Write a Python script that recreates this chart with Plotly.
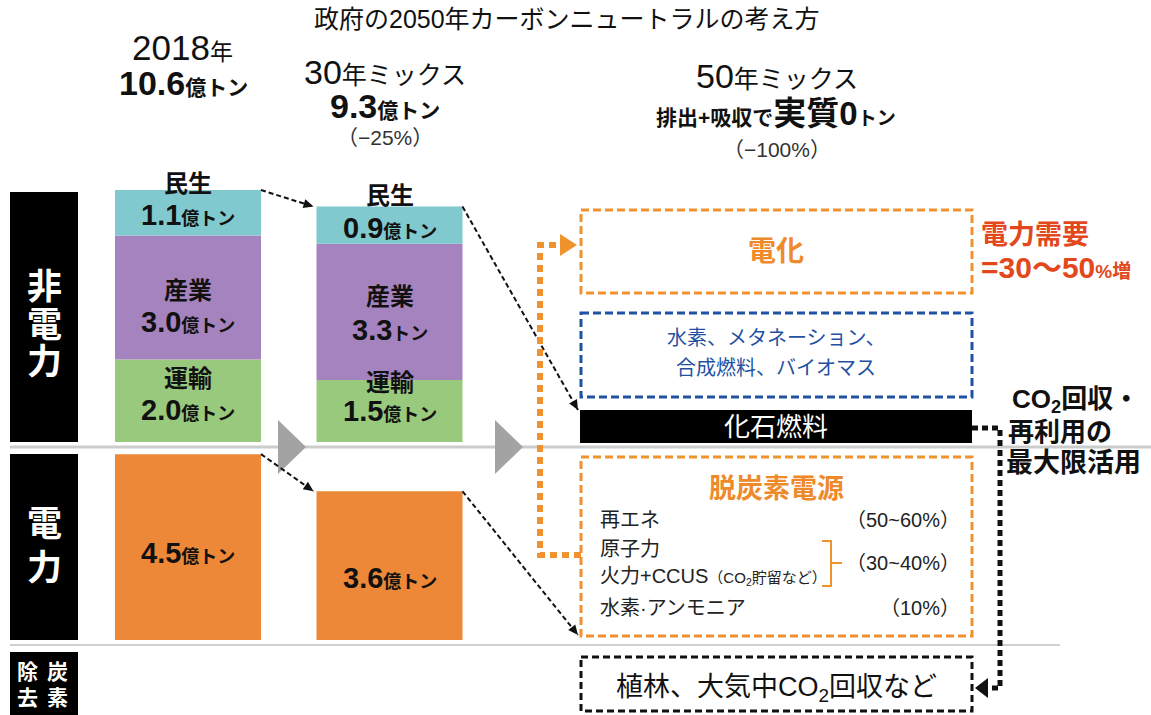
import numpy as np
import plotly.graph_objects as go

# ---- data (億トン CO2) ----
categories = ["2018年", "30年ミックス"]
minsei = [1.1, 0.9]      # 民生
sangyo = [3.0, 3.3]      # 産業
unyu = [2.0, 1.5]        # 運輸
denryoku = [4.5, 3.6]    # 電力
sangyo_units = ["億トン", "トン"]
reduction_labels = ["（−25%）", "（−100%）"]
mix_items = ["再エネ", "原子力", "火力+CCUS", "水素·アンモニア"]
mix_shares = ["（50~60%）", "（30~40%）", "（10%）"]

totals = np.round(np.array(minsei) + np.array(sangyo) + np.array(unyu) + np.array(denryoku), 1)

# ---- canvas / scale ----
W, H = 1151, 715
PPU = 41.3            # pixels per 億トン
Y0_PX = 640           # baseline of the power bars
NP_BASE_PX = 442      # baseline of the non-power stack
COL0_PX, COL_SP = 188, 201.5
BAR_W = 146 / COL_SP

XL = -COL0_PX / COL_SP
XR = XL + W / COL_SP
Y_BOT = -(H - Y0_PX) / PPU
Y_TOP = Y0_PX / PPU
NP_BASE = (Y0_PX - NP_BASE_PX) / PPU

FONT = "Liberation Sans, Noto Sans CJK JP"
CYAN, PURPLE, GREEN, ORANGE = "#80C9CF", "#A583BF", "#99C97D", "#EC8838"
DASH_ORANGE, BLUE, RED = "#F0922E", "#1F52A3", "#E2481C"


def xd(px):
    return XL + px / COL_SP


def yd(py):
    return (Y0_PX - py) / PPU


def to_px(x, y):
    return (x - XL) * COL_SP, Y0_PX - y * PPU


def px_x(px):
    return px / W


def px_y(py):
    return 1 - py / H


fig = go.Figure()

base_unyu = np.full(len(categories), NP_BASE)
base_sangyo = base_unyu + np.array(unyu)
base_minsei = base_sangyo + np.array(sangyo)
top_np = base_minsei + np.array(minsei)

for vals, base, col in [(unyu, base_unyu, GREEN), (sangyo, base_sangyo, PURPLE),
                        (minsei, base_minsei, CYAN), (denryoku, np.zeros(2), ORANGE)]:
    fig.add_trace(go.Bar(x=categories, y=vals, base=base, width=BAR_W,
                         marker=dict(color=col, line=dict(width=0)),
                         hoverinfo="skip", showlegend=False))

shapes = []
annos = []


def T(x, y, text, size, color="#111111", xanchor="center", xref="paper"):
    annos.append(dict(x=(x if xref == "x" else px_x(x)), y=px_y(y), xref=xref, yref="paper",
                      text=text, showarrow=False, xanchor=xanchor, yanchor="middle",
                      align=xanchor if xanchor != "center" else "center",
                      font=dict(size=size, color=color, family=FONT)))


def rect(x0, y0, x1, y1, fill=None, line=None, width=0, dash=None):
    shapes.append(dict(type="rect", xref="paper", yref="paper",
                       x0=px_x(x0), x1=px_x(x1), y0=px_y(y0), y1=px_y(y1),
                       fillcolor=fill if fill else "rgba(0,0,0,0)",
                       line=dict(color=line if line else "rgba(0,0,0,0)", width=width,
                                 dash=dash if dash else "solid"), layer="above"))


def path(pts, color, width, dash="solid", fill=None, close=False):
    d = "M " + " L ".join(f"{px_x(a):.5f},{px_y(b):.5f}" for a, b in pts)
    if close:
        d += " Z"
    shapes.append(dict(type="path", xref="paper", yref="paper", path=d,
                       line=dict(color=color, width=width, dash=dash),
                       fillcolor=fill if fill else "rgba(0,0,0,0)", layer="above"))


# separator lines
path([(10, 447), (1151, 447)], "#CCCCCC", 3)
path([(10, 645), (1060, 645)], "#D0D0D0", 2)

# grey step arrows
path([(278, 420), (306, 447), (278, 474)], "#A3A3A3", 0, fill="#A3A3A3", close=True)
path([(495, 420), (523, 447), (495, 474)], "#A3A3A3", 0, fill="#A3A3A3", close=True)

# left section labels
rect(10, 192, 78, 442, fill="black")
rect(10, 454, 78, 640, fill="black")
rect(10, 652, 78, 715, fill="black")
for ch, yy in zip("非電力", [286, 324, 361]):
    T(44, yy, f"<b>{ch}</b>", 35, "white")
for ch, yy in zip("電力", [523, 567]):
    T(44, yy, f"<b>{ch}</b>", 35, "white")
for ch, xx, yy in [("除", 27, 671), ("炭", 57, 671), ("去", 27, 697), ("素", 57, 697)]:
    T(xx, yy, f"<b>{ch}</b>", 21, "white")

# headings
T(567, 19, "政府の2050年カーボンニュートラルの考え方", 25)
T(182, 47, "2018<span style='font-size:23px'>年</span>", 35)
T(183, 83, f"<b>{totals[0]:.1f}<span style='font-size:21px'>億トン</span></b>", 34)
T(385, 72, "30<span style='font-size:25px'>年ミックス</span>", 34)
T(385, 106, f"<b>{totals[1]:.1f}<span style='font-size:21px'>億トン</span></b>", 34)
T(385, 138, reduction_labels[0], 21, "#333333")
T(777, 76, "50<span style='font-size:25px'>年ミックス</span>", 34)
T(776, 113, "<b><span style='font-size:21px'>排出+吸収で</span>実質0<span style='font-size:19px'>トン</span></b>", 33)
T(777, 149, reduction_labels[1], 21, "#333333")

# bar labels
name_y = {"民生": [183, 196], "産業": [290, 296], "運輸": [378, 382]}
val_y = {"民生": [215, 228], "産業": [322, 330], "運輸": [410, 411]}
for key, vals, units in [("民生", minsei, ["億トン"] * 2), ("産業", sangyo, sangyo_units),
                         ("運輸", unyu, ["億トン"] * 2)]:
    for i in range(len(categories)):
        T(i, name_y[key][i], f"<b>{key}</b>", 24, "#111111", xref="x")
        T(i, val_y[key][i], f"<b>{vals[i]:.1f}<span style='font-size:18px'>{units[i]}</span></b>",
          29, "#111111", xref="x")
for i, yy in enumerate([553, 578]):
    T(i, yy, f"<b>{denryoku[i]:.1f}<span style='font-size:18px'>億トン</span></b>", 29, xref="x")


# dashed connectors between bar tops, with a small filled head
def connector(x0, y0, x1, y1):
    shapes.append(dict(type="line", xref="x", yref="y", x0=x0, y0=y0, x1=x1, y1=y1,
                       line=dict(color="#111111", width=2, dash="5px,3px"), layer="above"))
    ax, ay = to_px(x0, y0)
    bx, by = to_px(x1, y1)
    ux, uy = bx - ax, by - ay
    n = np.hypot(ux, uy)
    ux, uy = ux / n, uy / n
    L, half = 10, 4.5
    cx, cy = bx - ux * L, by - uy * L
    path([(bx, by), (cx - uy * half, cy + ux * half), (cx + uy * half, cy - ux * half)],
         "#111111", 0, fill="#111111", close=True)


gap = 3 / COL_SP
connector(BAR_W / 2, top_np[0], 1 - BAR_W / 2 - gap, top_np[1])
connector(1 + BAR_W / 2, top_np[1], xd(578), yd(410))
connector(BAR_W / 2, denryoku[0], 1 - BAR_W / 2 - gap, denryoku[1])
connector(1 + BAR_W / 2, denryoku[1], xd(578), yd(635))

# 2050 boxes
rect(581, 210, 972, 293, line=DASH_ORANGE, width=3, dash="8px,4px")
T(776, 251, "<b>電化</b>", 28, "#EE8A2A")
rect(581, 313, 972, 397, line=BLUE, width=3, dash="8px,4px")
T(776, 338, "水素、メタネーション、", 20, BLUE)
T(776, 368, "合成燃料、バイオマス", 20, BLUE)
rect(580, 410, 972, 443, fill="black")
T(776, 427, "化石燃料", 26, "white")
rect(581, 457, 972, 636, line=DASH_ORANGE, width=3, dash="8px,4px")
T(776, 489, "<b>脱炭素電源</b>", 27, "#EE8A2A")
T(598, 520, mix_items[0], 20, "#222222", "left")
T(598, 549, mix_items[1], 20, "#222222", "left")
T(598, 576, mix_items[2] + "<span style='font-size:15px'>（CO<sub>2</sub>貯留など）</span>", 20, "#222222", "left")
T(598, 608, mix_items[3], 20, "#222222", "left")
T(962, 520, mix_shares[0], 20, "#222222", "right")
T(962, 563, mix_shares[1], 20, "#222222", "right")
T(962, 608, mix_shares[2], 20, "#222222", "right")
path([(822, 541), (831, 541), (831, 586), (822, 586)], DASH_ORANGE, 2)
path([(831, 563), (842, 563)], DASH_ORANGE, 2)
rect(581, 657, 972, 711, line="#111111", width=3, dash="7px,4px")
T(776, 689, "植林、大気中CO<sub>2</sub>回収など", 27, "#111111")

# electrification route (orange) and CCUS route (black)
path([(581, 555), (540, 555), (540, 245), (560, 245)], "#F0922E", 6, dash="7px,5px")
path([(560, 234), (577, 245), (560, 256)], "#F0922E", 0, fill="#F0922E", close=True)
path([(972, 428), (1000, 428), (1000, 688), (988, 688)], "#111111", 5, dash="6px,4px")
path([(988, 678), (975, 688), (988, 698)], "#111111", 0, fill="#111111", close=True)

# side notes
T(979, 252, "<b><span style='font-size:27px'>電力需要</span><br>"
            "<span style='font-size:30px'>=30〜50</span><span style='font-size:19px'>%増</span></b>",
  26, RED, "left")
T(1010, 400, "<b>CO<sub>2</sub>回収・</b>", 26, "#111111", "left")
T(1006, 432, "<b>再利用の</b>", 26, "#111111", "left")
T(1004, 463, "<b>最大限活用</b>", 27, "#111111", "left")

fig.update_layout(
    width=W, height=H, margin=dict(l=0, r=0, t=0, b=0),
    paper_bgcolor="white", plot_bgcolor="white", barmode="overlay",
    xaxis=dict(type="category", range=[XL, XR], visible=False, fixedrange=True),
    yaxis=dict(range=[Y_BOT, Y_TOP], visible=False, fixedrange=True),
    shapes=shapes, annotations=annos, showlegend=False,
)
fig.write_html("out.html")
